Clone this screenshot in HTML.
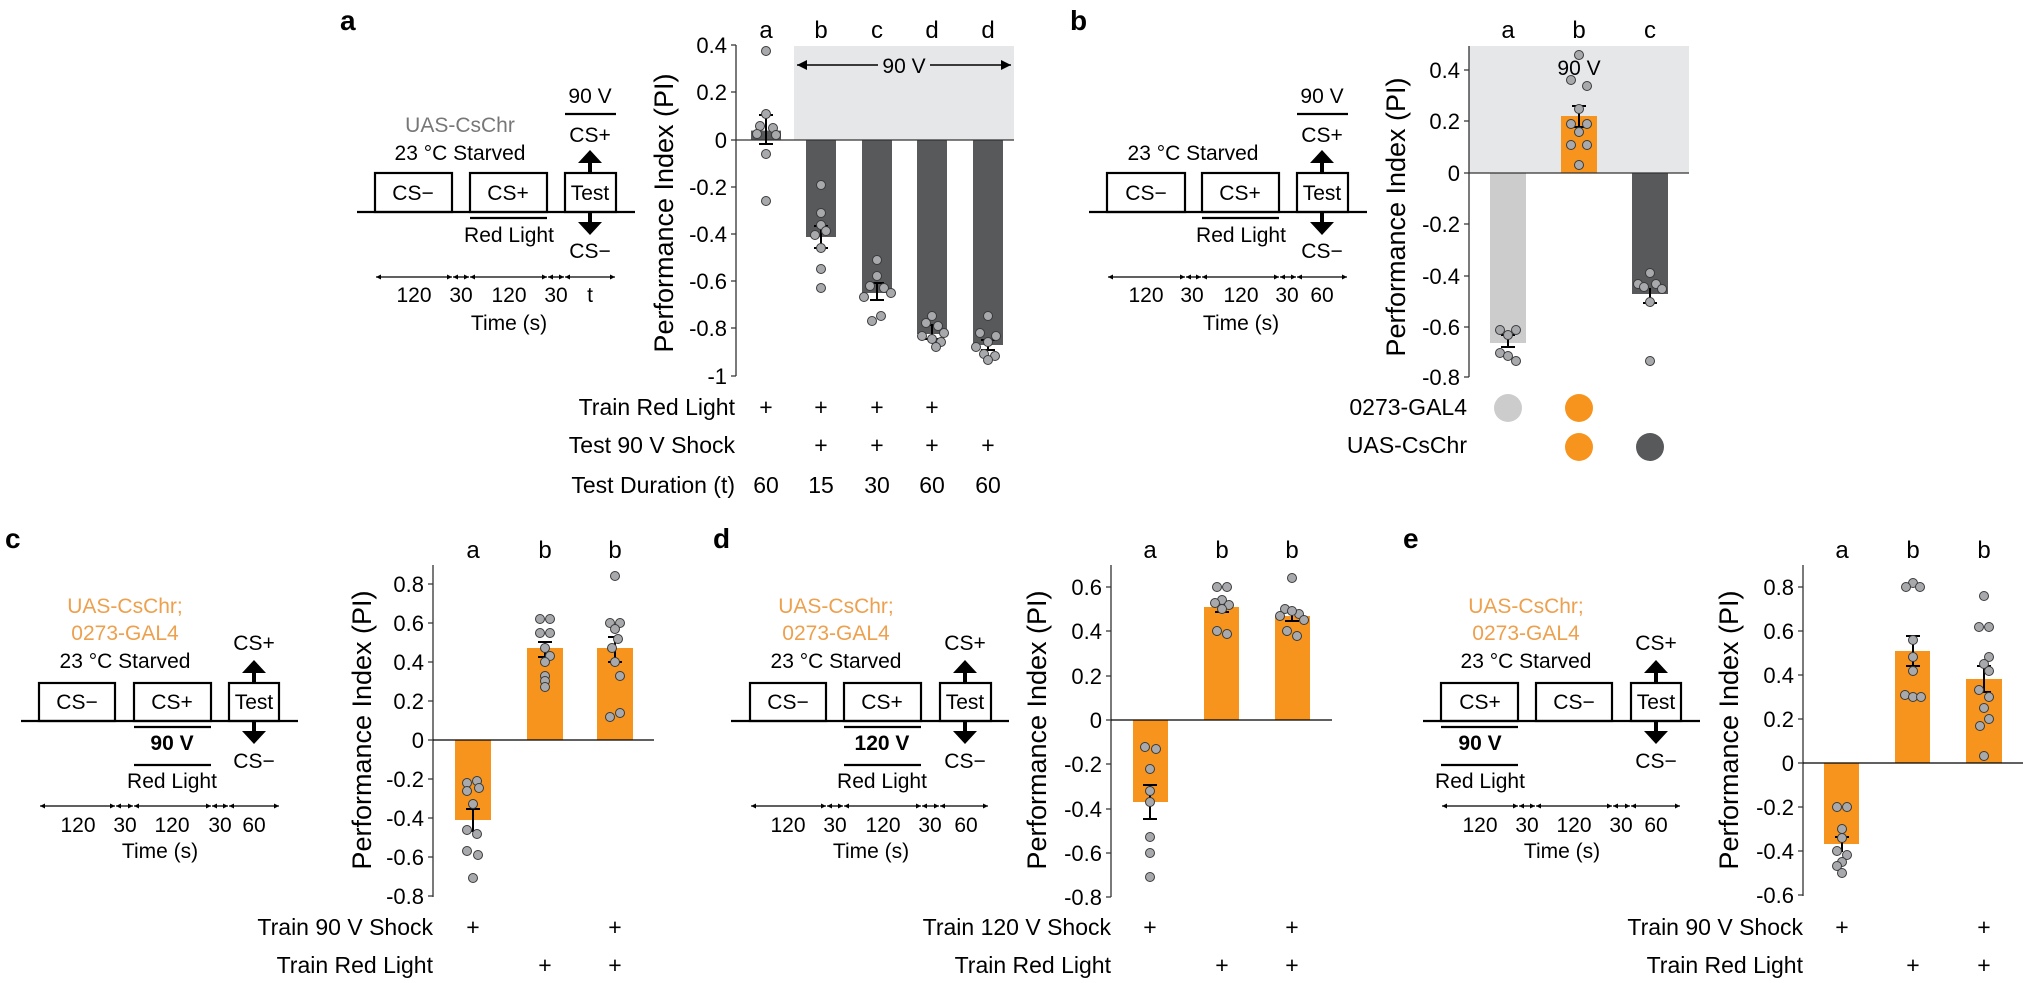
<!DOCTYPE html>
<html><head><meta charset="utf-8"><style>
html,body{margin:0;padding:0;background:#fff;}
svg{display:block;font-family:"Liberation Sans",Arial,sans-serif;}
.tk{font-size:22px;text-anchor:end}
.yl{font-size:27px;text-anchor:middle}
.lt{font-size:24px;text-anchor:middle}
.dg{font-size:21px;text-anchor:middle}
.rw{font-size:23px;text-anchor:end}
.pm{font-size:23px;text-anchor:middle}
.pl{font-size:28px;font-weight:bold}
.or{fill:#eda04d}
.box{fill:none;stroke:#000;stroke-width:2.2}
.ln{stroke:#000;stroke-width:2.2}
.ax{stroke:#333;stroke-width:1.3;fill:none}
.eb{stroke:#000;stroke-width:2;fill:none}
.ta{stroke:#000;stroke-width:1.3;marker-start:url(#ah);marker-end:url(#ah)}
circle.d{fill:#a7a9ac;stroke:#3a3a3a;stroke-width:1}
</style></head><body>
<svg width="2023" height="983" viewBox="0 0 2023 983" xmlns="http://www.w3.org/2000/svg">
<defs>
<marker id="ah" viewBox="0 0 10 10" refX="10" refY="5" markerWidth="5" markerHeight="5" orient="auto-start-reverse" markerUnits="userSpaceOnUse"><path d="M0,0L10,5L0,10z" fill="#000"/></marker>
<marker id="ah2" viewBox="0 0 10 10" refX="10" refY="5" markerWidth="10" markerHeight="10" orient="auto-start-reverse" markerUnits="userSpaceOnUse"><path d="M0,0L10,5L0,10z" fill="#000"/></marker>
</defs>

<!-- Panel labels -->
<text class="pl" x="340" y="30">a</text>
<text class="pl" x="1070" y="30">b</text>
<text class="pl" x="5" y="548">c</text>
<text class="pl" x="713" y="548">d</text>
<text class="pl" x="1403" y="548">e</text>

<!-- ===== Diagram a ===== -->
<text class="dg" x="460" y="132" fill="#777">UAS-CsChr</text>
<text class="dg" x="460" y="160">23 °C Starved</text>
<rect class="box" x="375" y="173" width="77" height="39"/><text class="dg" x="413" y="200">CS−</text>
<rect class="box" x="470" y="173" width="77" height="39"/><text class="dg" x="508" y="200">CS+</text>
<rect class="box" x="565" y="173" width="51" height="39"/><text class="dg" x="590" y="200">Test</text>
<line class="ln" x1="357" y1="212" x2="635" y2="212"/>
<line class="ln" x1="470" y1="218" x2="547" y2="218"/>
<text class="dg" x="509" y="242">Red Light</text>
<text class="dg" x="590" y="103">90 V</text>
<line class="ln" x1="565" y1="114" x2="616" y2="114"/>
<text class="dg" x="590" y="142">CS+</text>
<rect x="588" y="162" width="4" height="11"/><path d="M578,163L590,150L602,163z"/>
<rect x="588" y="212" width="4" height="11"/><path d="M578,222L602,222L590,235z"/>
<text class="dg" x="590" y="258">CS−</text>
<line class="ta" x1="376" y1="277" x2="452" y2="277"/><line class="ta" x1="453" y1="277" x2="469" y2="277"/><line class="ta" x1="470" y1="277" x2="547" y2="277"/><line class="ta" x1="548" y1="277" x2="564" y2="277"/><line class="ta" x1="565" y1="277" x2="615" y2="277"/>
<text class="dg" x="414" y="302">120</text><text class="dg" x="461" y="302">30</text><text class="dg" x="509" y="302">120</text><text class="dg" x="556" y="302">30</text><text class="dg" x="590" y="302">t</text>
<text class="dg" x="509" y="330">Time (s)</text>

<!-- ===== Chart a ===== -->
<rect x="794" y="46" width="220" height="94" fill="#e6e7e9"/>
<line x1="797" y1="65" x2="1011" y2="65" stroke="#000" stroke-width="1.5" marker-start="url(#ah2)" marker-end="url(#ah2)"/>
<rect x="878" y="52" width="52" height="26" fill="#e6e7e9"/>
<text class="dg" x="904" y="73">90 V</text>
<text class="yl" transform="translate(673,213) rotate(-90)">Performance Index (PI)</text>
<g class="ax"><line x1="736" y1="45" x2="736" y2="376"/>
<path d="M731,45H736M731,92H736M731,140H736M731,187H736M731,234H736M731,281H736M731,328H736M731,376H736"/></g>
<text class="tk" x="727" y="53">0.4</text><text class="tk" x="727" y="100">0.2</text><text class="tk" x="727" y="148">0</text><text class="tk" x="727" y="195">-0.2</text><text class="tk" x="727" y="242">-0.4</text><text class="tk" x="727" y="289">-0.6</text><text class="tk" x="727" y="336">-0.8</text><text class="tk" x="727" y="384">-1</text>
<rect x="751" y="130.6" width="30" height="9.4" fill="#58595b"/>
<rect x="806" y="140" width="30" height="97" fill="#58595b"/>
<rect x="862" y="140" width="30" height="153" fill="#58595b"/>
<rect x="917" y="140" width="30" height="194" fill="#58595b"/>
<rect x="973" y="140" width="30" height="205" fill="#58595b"/>
<line x1="736" y1="140" x2="1014" y2="140" stroke="#333" stroke-width="1.3"/>
<g class="eb"><path d="M766,115V144M759,115H773M759,144H773"/><path d="M821,226V248M814,226H828M814,248H828"/><path d="M877,283V300M870,283H884M870,300H884"/><path d="M932,325V339M925,325H939M925,339H939"/><path d="M988,340V350M981,340H995M981,350H995"/></g>
<g>
<circle class="d" cx="766" cy="51" r="4.5"/><circle class="d" cx="766" cy="114" r="4.5"/><circle class="d" cx="760" cy="126" r="4.5"/><circle class="d" cx="773" cy="128" r="4.5"/><circle class="d" cx="757" cy="134" r="4.5"/><circle class="d" cx="776" cy="135" r="4.5"/><circle class="d" cx="766" cy="154" r="4.5"/><circle class="d" cx="766" cy="201" r="4.5"/>
<circle class="d" cx="821" cy="185" r="4.5"/><circle class="d" cx="821" cy="213" r="4.5"/><circle class="d" cx="821" cy="225" r="4.5"/><circle class="d" cx="826" cy="231" r="4.5"/><circle class="d" cx="815" cy="235" r="4.5"/><circle class="d" cx="821" cy="248" r="4.5"/><circle class="d" cx="821" cy="269" r="4.5"/><circle class="d" cx="821" cy="288" r="4.5"/>
<circle class="d" cx="877" cy="260" r="4.5"/><circle class="d" cx="877" cy="276" r="4.5"/><circle class="d" cx="870" cy="286" r="4.5"/><circle class="d" cx="884" cy="288" r="4.5"/><circle class="d" cx="891" cy="293" r="4.5"/><circle class="d" cx="864" cy="297" r="4.5"/><circle class="d" cx="881" cy="316" r="4.5"/><circle class="d" cx="872" cy="321" r="4.5"/>
<circle class="d" cx="932" cy="316" r="4.5"/><circle class="d" cx="926" cy="323" r="4.5"/><circle class="d" cx="938" cy="326" r="4.5"/><circle class="d" cx="944" cy="333" r="4.5"/><circle class="d" cx="922" cy="336" r="4.5"/><circle class="d" cx="932" cy="339" r="4.5"/><circle class="d" cx="941" cy="342" r="4.5"/><circle class="d" cx="936" cy="347" r="4.5"/>
<circle class="d" cx="988" cy="316" r="4.5"/><circle class="d" cx="980" cy="333" r="4.5"/><circle class="d" cx="996" cy="336" r="4.5"/><circle class="d" cx="988" cy="342" r="4.5"/><circle class="d" cx="976" cy="347" r="4.5"/><circle class="d" cx="984" cy="354" r="4.5"/><circle class="d" cx="995" cy="356" r="4.5"/><circle class="d" cx="988" cy="360" r="4.5"/>
</g>
<text class="lt" x="766" y="38">a</text><text class="lt" x="821" y="38">b</text><text class="lt" x="877" y="38">c</text><text class="lt" x="932" y="38">d</text><text class="lt" x="988" y="38">d</text>
<text class="rw" x="735" y="415">Train Red Light</text><text class="rw" x="735" y="453">Test 90 V Shock</text><text class="rw" x="735" y="493">Test Duration (t)</text>
<text class="pm" x="766" y="415">+</text><text class="pm" x="821" y="415">+</text><text class="pm" x="877" y="415">+</text><text class="pm" x="932" y="415">+</text>
<text class="pm" x="821" y="453">+</text><text class="pm" x="877" y="453">+</text><text class="pm" x="932" y="453">+</text><text class="pm" x="988" y="453">+</text>
<text class="pm" x="766" y="493">60</text><text class="pm" x="821" y="493">15</text><text class="pm" x="877" y="493">30</text><text class="pm" x="932" y="493">60</text><text class="pm" x="988" y="493">60</text>

<!-- ===== Diagram b ===== -->
<text class="dg" x="1193" y="160">23 °C Starved</text>
<rect class="box" x="1107" y="173" width="78" height="39"/><text class="dg" x="1146" y="200">CS−</text>
<rect class="box" x="1202" y="173" width="77" height="39"/><text class="dg" x="1240" y="200">CS+</text>
<rect class="box" x="1297" y="173" width="51" height="39"/><text class="dg" x="1322" y="200">Test</text>
<line class="ln" x1="1089" y1="212" x2="1367" y2="212"/>
<line class="ln" x1="1202" y1="218" x2="1279" y2="218"/>
<text class="dg" x="1241" y="242">Red Light</text>
<text class="dg" x="1322" y="103">90 V</text>
<line class="ln" x1="1297" y1="114" x2="1348" y2="114"/>
<text class="dg" x="1322" y="142">CS+</text>
<rect x="1320" y="162" width="4" height="11"/><path d="M1310,163L1322,150L1334,163z"/>
<rect x="1320" y="212" width="4" height="11"/><path d="M1310,222L1334,222L1322,235z"/>
<text class="dg" x="1322" y="258">CS−</text>
<line class="ta" x1="1108" y1="277" x2="1185" y2="277"/><line class="ta" x1="1186" y1="277" x2="1201" y2="277"/><line class="ta" x1="1202" y1="277" x2="1279" y2="277"/><line class="ta" x1="1280" y1="277" x2="1296" y2="277"/><line class="ta" x1="1297" y1="277" x2="1347" y2="277"/>
<text class="dg" x="1146" y="302">120</text><text class="dg" x="1192" y="302">30</text><text class="dg" x="1241" y="302">120</text><text class="dg" x="1287" y="302">30</text><text class="dg" x="1322" y="302">60</text>
<text class="dg" x="1241" y="330">Time (s)</text>

<!-- ===== Chart b ===== -->
<rect x="1469" y="46" width="220" height="127" fill="#e6e7e9"/>
<text class="yl" transform="translate(1405,217) rotate(-90)">Performance Index (PI)</text>
<g class="ax"><line x1="1469" y1="46" x2="1469" y2="377"/>
<path d="M1464,70H1469M1464,121H1469M1464,173H1469M1464,224H1469M1464,276H1469M1464,327H1469M1464,377H1469"/></g>
<text class="tk" x="1460" y="78">0.4</text><text class="tk" x="1460" y="129">0.2</text><text class="tk" x="1460" y="181">0</text><text class="tk" x="1460" y="232">-0.2</text><text class="tk" x="1460" y="284">-0.4</text><text class="tk" x="1460" y="335">-0.6</text><text class="tk" x="1460" y="385">-0.8</text>
<rect x="1490" y="173" width="36" height="170" fill="#cccccc"/>
<rect x="1561" y="116" width="36" height="57" fill="#f7941d"/>
<rect x="1632" y="173" width="36" height="121" fill="#58595b"/>
<line x1="1469" y1="173" x2="1689" y2="173" stroke="#333" stroke-width="1.3"/>
<text class="dg" x="1579" y="75">90 V</text>
<g class="eb"><path d="M1508,335V347M1501,335H1515M1501,347H1515"/><path d="M1579,106V127M1572,106H1586M1572,127H1586"/><path d="M1650,288V303M1643,303H1657"/></g>
<g>
<circle class="d" cx="1500" cy="330" r="4.5"/><circle class="d" cx="1516" cy="330" r="4.5"/><circle class="d" cx="1508" cy="335" r="4.5"/><circle class="d" cx="1500" cy="353" r="4.5"/><circle class="d" cx="1508" cy="356" r="4.5"/><circle class="d" cx="1516" cy="361" r="4.5"/>
<circle class="d" cx="1579" cy="55" r="4.5"/><circle class="d" cx="1571" cy="80" r="4.5"/><circle class="d" cx="1587" cy="86" r="4.5"/><circle class="d" cx="1579" cy="109" r="4.5"/><circle class="d" cx="1571" cy="124" r="4.5"/><circle class="d" cx="1587" cy="124" r="4.5"/><circle class="d" cx="1579" cy="132" r="4.5"/><circle class="d" cx="1571" cy="145" r="4.5"/><circle class="d" cx="1587" cy="145" r="4.5"/><circle class="d" cx="1579" cy="165" r="4.5"/>
<circle class="d" cx="1650" cy="273" r="4.5"/><circle class="d" cx="1638" cy="284" r="4.5"/><circle class="d" cx="1644" cy="287" r="4.5"/><circle class="d" cx="1656" cy="284" r="4.5"/><circle class="d" cx="1662" cy="289" r="4.5"/><circle class="d" cx="1650" cy="302" r="4.5"/><circle class="d" cx="1650" cy="361" r="4.5"/>
</g>
<text class="lt" x="1508" y="38">a</text><text class="lt" x="1579" y="38">b</text><text class="lt" x="1650" y="38">c</text>
<text class="rw" x="1467" y="415">0273-GAL4</text><text class="rw" x="1467" y="453">UAS-CsChr</text>
<circle cx="1508" cy="408" r="14" fill="#cccccc"/><circle cx="1579" cy="408" r="14" fill="#f7941d"/>
<circle cx="1579" cy="447" r="14" fill="#f7941d"/><circle cx="1650" cy="447" r="14" fill="#58595b"/>

<!-- ===== Diagram c ===== -->
<text class="dg or" x="125" y="613">UAS-CsChr;</text><text class="dg or" x="125" y="640">0273-GAL4</text>
<text class="dg" x="125" y="668">23 °C Starved</text>
<rect class="box" x="39" y="683" width="76" height="38"/><text class="dg" x="77" y="709">CS−</text>
<rect class="box" x="134" y="683" width="77" height="38"/><text class="dg" x="172" y="709">CS+</text>
<rect class="box" x="229" y="683" width="50" height="38"/><text class="dg" x="254" y="709">Test</text>
<line class="ln" x1="21" y1="721" x2="298" y2="721"/>
<line class="ln" x1="134" y1="727" x2="211" y2="727"/>
<text class="dg" x="172" y="750" font-weight="bold">90 V</text>
<line class="ln" x1="134" y1="765" x2="211" y2="765"/>
<text class="dg" x="172" y="788">Red Light</text>
<text class="dg" x="254" y="650">CS+</text>
<rect x="252" y="672" width="4" height="11"/><path d="M242,673L254,660L266,673z"/>
<rect x="252" y="721" width="4" height="11"/><path d="M242,731L266,731L254,744z"/>
<text class="dg" x="254" y="768">CS−</text>
<line class="ta" x1="40" y1="806" x2="115" y2="806"/><line class="ta" x1="116" y1="806" x2="133" y2="806"/><line class="ta" x1="134" y1="806" x2="211" y2="806"/><line class="ta" x1="212" y1="806" x2="228" y2="806"/><line class="ta" x1="229" y1="806" x2="279" y2="806"/>
<text class="dg" x="78" y="832">120</text><text class="dg" x="125" y="832">30</text><text class="dg" x="172" y="832">120</text><text class="dg" x="220" y="832">30</text><text class="dg" x="254" y="832">60</text>
<text class="dg" x="160" y="858">Time (s)</text>

<!-- ===== Chart c ===== -->
<text class="yl" transform="translate(371,730) rotate(-90)">Performance Index (PI)</text>
<g class="ax"><line x1="433" y1="565" x2="433" y2="897"/>
<path d="M428,584H433M428,623H433M428,662H433M428,701H433M428,740H433M428,779H433M428,818H433M428,857H433M428,896H433"/></g>
<text class="tk" x="424" y="592">0.8</text><text class="tk" x="424" y="631">0.6</text><text class="tk" x="424" y="670">0.4</text><text class="tk" x="424" y="709">0.2</text><text class="tk" x="424" y="748">0</text><text class="tk" x="424" y="787">-0.2</text><text class="tk" x="424" y="826">-0.4</text><text class="tk" x="424" y="865">-0.6</text><text class="tk" x="424" y="904">-0.8</text>
<rect x="455" y="740" width="36" height="80" fill="#f7941d"/>
<rect x="527" y="648" width="36" height="92" fill="#f7941d"/>
<rect x="597" y="648" width="36" height="92" fill="#f7941d"/>
<line x1="433" y1="740" x2="654" y2="740" stroke="#000" stroke-width="1.3"/>
<g class="eb"><path d="M473,809V831M466,809H480M466,831H480"/><path d="M545,642V657M538,642H552M538,657H552"/><path d="M615,637V662M608,637H622M608,662H622"/></g>
<g>
<circle class="d" cx="477" cy="781" r="4.5"/><circle class="d" cx="467" cy="783" r="4.5"/><circle class="d" cx="479" cy="788" r="4.5"/><circle class="d" cx="467" cy="791" r="4.5"/><circle class="d" cx="473" cy="804" r="4.5"/><circle class="d" cx="467" cy="830" r="4.5"/><circle class="d" cx="477" cy="834" r="4.5"/><circle class="d" cx="467" cy="851" r="4.5"/><circle class="d" cx="478" cy="855" r="4.5"/><circle class="d" cx="473" cy="878" r="4.5"/>
<circle class="d" cx="540" cy="619" r="4.5"/><circle class="d" cx="550" cy="619" r="4.5"/><circle class="d" cx="540" cy="633" r="4.5"/><circle class="d" cx="550" cy="633" r="4.5"/><circle class="d" cx="545" cy="648" r="4.5"/><circle class="d" cx="550" cy="656" r="4.5"/><circle class="d" cx="545" cy="662" r="4.5"/><circle class="d" cx="545" cy="676" r="4.5"/><circle class="d" cx="545" cy="681" r="4.5"/><circle class="d" cx="545" cy="687" r="4.5"/>
<circle class="d" cx="615" cy="576" r="4.5"/><circle class="d" cx="610" cy="623" r="4.5"/><circle class="d" cx="620" cy="623" r="4.5"/><circle class="d" cx="615" cy="629" r="4.5"/><circle class="d" cx="618" cy="639" r="4.5"/><circle class="d" cx="612" cy="648" r="4.5"/><circle class="d" cx="615" cy="662" r="4.5"/><circle class="d" cx="620" cy="676" r="4.5"/><circle class="d" cx="620" cy="713" r="4.5"/><circle class="d" cx="610" cy="717" r="4.5"/>
</g>
<text class="lt" x="473" y="558">a</text><text class="lt" x="545" y="558">b</text><text class="lt" x="615" y="558">b</text>
<text class="rw" x="433" y="935">Train 90 V Shock</text><text class="rw" x="433" y="973">Train Red Light</text>
<text class="pm" x="473" y="935">+</text><text class="pm" x="615" y="935">+</text>
<text class="pm" x="545" y="973">+</text><text class="pm" x="615" y="973">+</text>

<!-- ===== Diagram d ===== -->
<text class="dg or" x="836" y="613">UAS-CsChr;</text><text class="dg or" x="836" y="640">0273-GAL4</text>
<text class="dg" x="836" y="668">23 °C Starved</text>
<rect class="box" x="750" y="683" width="76" height="38"/><text class="dg" x="788" y="709">CS−</text>
<rect class="box" x="844" y="683" width="77" height="38"/><text class="dg" x="882" y="709">CS+</text>
<rect class="box" x="940" y="683" width="51" height="38"/><text class="dg" x="965" y="709">Test</text>
<line class="ln" x1="731" y1="721" x2="1009" y2="721"/>
<line class="ln" x1="844" y1="727" x2="921" y2="727"/>
<text class="dg" x="882" y="750" font-weight="bold">120 V</text>
<line class="ln" x1="844" y1="765" x2="921" y2="765"/>
<text class="dg" x="882" y="788">Red Light</text>
<text class="dg" x="965" y="650">CS+</text>
<rect x="963" y="672" width="4" height="11"/><path d="M953,673L965,660L977,673z"/>
<rect x="963" y="721" width="4" height="11"/><path d="M953,731L977,731L965,744z"/>
<text class="dg" x="965" y="768">CS−</text>
<line class="ta" x1="751" y1="806" x2="826" y2="806"/><line class="ta" x1="827" y1="806" x2="843" y2="806"/><line class="ta" x1="844" y1="806" x2="921" y2="806"/><line class="ta" x1="922" y1="806" x2="939" y2="806"/><line class="ta" x1="940" y1="806" x2="988" y2="806"/>
<text class="dg" x="788" y="832">120</text><text class="dg" x="835" y="832">30</text><text class="dg" x="883" y="832">120</text><text class="dg" x="930" y="832">30</text><text class="dg" x="966" y="832">60</text>
<text class="dg" x="871" y="858">Time (s)</text>

<!-- ===== Chart d ===== -->
<text class="yl" transform="translate(1046,730) rotate(-90)">Performance Index (PI)</text>
<g class="ax"><line x1="1111" y1="565" x2="1111" y2="897"/>
<path d="M1106,587H1111M1106,631H1111M1106,676H1111M1106,720H1111M1106,764H1111M1106,809H1111M1106,853H1111M1106,897H1111"/></g>
<text class="tk" x="1102" y="595">0.6</text><text class="tk" x="1102" y="639">0.4</text><text class="tk" x="1102" y="684">0.2</text><text class="tk" x="1102" y="728">0</text><text class="tk" x="1102" y="772">-0.2</text><text class="tk" x="1102" y="817">-0.4</text><text class="tk" x="1102" y="861">-0.6</text><text class="tk" x="1102" y="905">-0.8</text>
<rect x="1133" y="720" width="35" height="82" fill="#f7941d"/>
<rect x="1204" y="607" width="35" height="113" fill="#f7941d"/>
<rect x="1275" y="616" width="35" height="104" fill="#f7941d"/>
<line x1="1111" y1="720" x2="1332" y2="720" stroke="#000" stroke-width="1.3"/>
<g class="eb"><path d="M1150,785V819M1143,785H1157M1143,819H1157"/><path d="M1222,603V612M1215,612H1229"/><path d="M1292,609V621M1285,621H1299"/></g>
<g>
<circle class="d" cx="1145" cy="747" r="4.5"/><circle class="d" cx="1156" cy="749" r="4.5"/><circle class="d" cx="1150" cy="769" r="4.5"/><circle class="d" cx="1150" cy="791" r="4.5"/><circle class="d" cx="1150" cy="802" r="4.5"/><circle class="d" cx="1150" cy="837" r="4.5"/><circle class="d" cx="1150" cy="853" r="4.5"/><circle class="d" cx="1150" cy="877" r="4.5"/>
<circle class="d" cx="1217" cy="587" r="4.5"/><circle class="d" cx="1227" cy="587" r="4.5"/><circle class="d" cx="1222" cy="600" r="4.5"/><circle class="d" cx="1215" cy="603" r="4.5"/><circle class="d" cx="1229" cy="605" r="4.5"/><circle class="d" cx="1222" cy="609" r="4.5"/><circle class="d" cx="1217" cy="631" r="4.5"/><circle class="d" cx="1227" cy="634" r="4.5"/>
<circle class="d" cx="1292" cy="578" r="4.5"/><circle class="d" cx="1285" cy="609" r="4.5"/><circle class="d" cx="1299" cy="614" r="4.5"/><circle class="d" cx="1292" cy="611" r="4.5"/><circle class="d" cx="1280" cy="616" r="4.5"/><circle class="d" cx="1304" cy="620" r="4.5"/><circle class="d" cx="1287" cy="631" r="4.5"/><circle class="d" cx="1297" cy="636" r="4.5"/>
</g>
<text class="lt" x="1150" y="558">a</text><text class="lt" x="1222" y="558">b</text><text class="lt" x="1292" y="558">b</text>
<text class="rw" x="1111" y="935">Train 120 V Shock</text><text class="rw" x="1111" y="973">Train Red Light</text>
<text class="pm" x="1150" y="935">+</text><text class="pm" x="1292" y="935">+</text>
<text class="pm" x="1222" y="973">+</text><text class="pm" x="1292" y="973">+</text>

<!-- ===== Diagram e ===== -->
<text class="dg or" x="1526" y="613">UAS-CsChr;</text><text class="dg or" x="1526" y="640">0273-GAL4</text>
<text class="dg" x="1526" y="668">23 °C Starved</text>
<rect class="box" x="1441" y="683" width="77" height="38"/><text class="dg" x="1480" y="709">CS+</text>
<rect class="box" x="1536" y="683" width="76" height="38"/><text class="dg" x="1574" y="709">CS−</text>
<rect class="box" x="1631" y="683" width="50" height="38"/><text class="dg" x="1656" y="709">Test</text>
<line class="ln" x1="1423" y1="721" x2="1700" y2="721"/>
<line class="ln" x1="1441" y1="727" x2="1518" y2="727"/>
<text class="dg" x="1480" y="750" font-weight="bold">90 V</text>
<line class="ln" x1="1441" y1="765" x2="1518" y2="765"/>
<text class="dg" x="1480" y="788">Red Light</text>
<text class="dg" x="1656" y="650">CS+</text>
<rect x="1654" y="672" width="4" height="11"/><path d="M1644,673L1656,660L1668,673z"/>
<rect x="1654" y="721" width="4" height="11"/><path d="M1644,731L1668,731L1656,744z"/>
<text class="dg" x="1656" y="768">CS−</text>
<line class="ta" x1="1442" y1="806" x2="1518" y2="806"/><line class="ta" x1="1519" y1="806" x2="1535" y2="806"/><line class="ta" x1="1536" y1="806" x2="1612" y2="806"/><line class="ta" x1="1613" y1="806" x2="1630" y2="806"/><line class="ta" x1="1631" y1="806" x2="1680" y2="806"/>
<text class="dg" x="1480" y="832">120</text><text class="dg" x="1527" y="832">30</text><text class="dg" x="1574" y="832">120</text><text class="dg" x="1621" y="832">30</text><text class="dg" x="1656" y="832">60</text>
<text class="dg" x="1562" y="858">Time (s)</text>

<!-- ===== Chart e ===== -->
<text class="yl" transform="translate(1738,730) rotate(-90)">Performance Index (PI)</text>
<g class="ax"><line x1="1803" y1="565" x2="1803" y2="896"/>
<path d="M1798,587H1803M1798,631H1803M1798,675H1803M1798,719H1803M1798,763H1803M1798,807H1803M1798,851H1803M1798,895H1803"/></g>
<text class="tk" x="1794" y="595">0.8</text><text class="tk" x="1794" y="639">0.6</text><text class="tk" x="1794" y="683">0.4</text><text class="tk" x="1794" y="727">0.2</text><text class="tk" x="1794" y="771">0</text><text class="tk" x="1794" y="815">-0.2</text><text class="tk" x="1794" y="859">-0.4</text><text class="tk" x="1794" y="903">-0.6</text>
<rect x="1824" y="763" width="35" height="81" fill="#f7941d"/>
<rect x="1895" y="651" width="35" height="112" fill="#f7941d"/>
<rect x="1966" y="679" width="36" height="84" fill="#f7941d"/>
<line x1="1803" y1="763" x2="2023" y2="763" stroke="#000" stroke-width="1.3"/>
<g class="eb"><path d="M1842,836V852M1835,837H1849"/><path d="M1913,636V666M1906,636H1920M1906,666H1920"/><path d="M1984,666V692M1977,666H1991M1977,692H1991"/></g>
<g>
<circle class="d" cx="1837" cy="807" r="4.5"/><circle class="d" cx="1847" cy="807" r="4.5"/><circle class="d" cx="1842" cy="829" r="4.5"/><circle class="d" cx="1842" cy="838" r="4.5"/><circle class="d" cx="1837" cy="851" r="4.5"/><circle class="d" cx="1847" cy="855" r="4.5"/><circle class="d" cx="1842" cy="862" r="4.5"/><circle class="d" cx="1837" cy="866" r="4.5"/><circle class="d" cx="1842" cy="873" r="4.5"/>
<circle class="d" cx="1913" cy="583" r="4.5"/><circle class="d" cx="1906" cy="587" r="4.5"/><circle class="d" cx="1920" cy="587" r="4.5"/><circle class="d" cx="1913" cy="640" r="4.5"/><circle class="d" cx="1913" cy="657" r="4.5"/><circle class="d" cx="1913" cy="671" r="4.5"/><circle class="d" cx="1905" cy="695" r="4.5"/><circle class="d" cx="1913" cy="697" r="4.5"/><circle class="d" cx="1921" cy="697" r="4.5"/>
<circle class="d" cx="1984" cy="596" r="4.5"/><circle class="d" cx="1979" cy="627" r="4.5"/><circle class="d" cx="1989" cy="627" r="4.5"/><circle class="d" cx="1989" cy="657" r="4.5"/><circle class="d" cx="1984" cy="664" r="4.5"/><circle class="d" cx="1989" cy="671" r="4.5"/><circle class="d" cx="1979" cy="690" r="4.5"/><circle class="d" cx="1989" cy="697" r="4.5"/><circle class="d" cx="1984" cy="708" r="4.5"/><circle class="d" cx="1989" cy="719" r="4.5"/><circle class="d" cx="1980" cy="726" r="4.5"/><circle class="d" cx="1984" cy="756" r="4.5"/>
</g>
<text class="lt" x="1842" y="558">a</text><text class="lt" x="1913" y="558">b</text><text class="lt" x="1984" y="558">b</text>
<text class="rw" x="1803" y="935">Train 90 V Shock</text><text class="rw" x="1803" y="973">Train Red Light</text>
<text class="pm" x="1842" y="935">+</text><text class="pm" x="1984" y="935">+</text>
<text class="pm" x="1913" y="973">+</text><text class="pm" x="1984" y="973">+</text>
</svg>
</body></html>
